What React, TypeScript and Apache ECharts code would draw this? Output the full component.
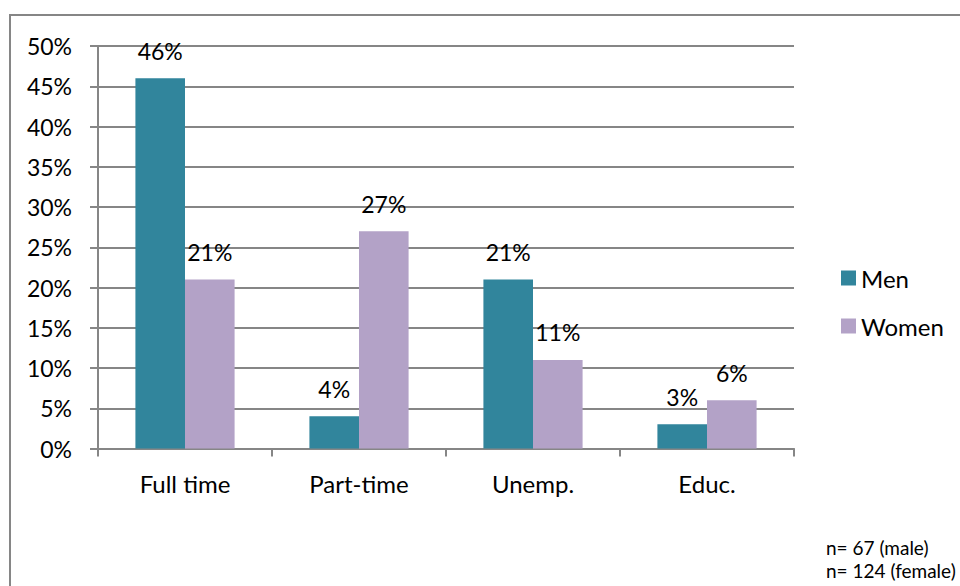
import React, { useEffect, useRef } from "react";
import * as echarts from "echarts";

const categories = ["Full time", "Part-time", "Unemp.", "Educ."];
const menValues = [46, 4, 21, 3];
const womenValues = [21, 27, 11, 6];
const seriesNames = ["Men", "Women"];
const footnotes = ["n= 67 (male)", "n= 124 (female)"];

const FONT = "Lato";

export default function App() {
  const ref = useRef<HTMLDivElement>(null);
  useEffect(() => {
    if (!ref.current) return;
    const chart = echarts.init(ref.current, undefined, { renderer: "svg" });
    const labelStyle = {
      show: true,
      position: "top" as const,
      distance: 16,
      formatter: (p: any) => `${p.value}%`,
      color: "#000",
      fontFamily: FONT,
      fontSize: 23,
    };
    chart.setOption({
      animation: false,
      backgroundColor: "#fff",
      textStyle: { fontFamily: FONT },
      grid: { left: 98, right: 166, top: 46, bottom: 137.5, containLabel: false },
      legend: {
        orient: "vertical",
        left: 836,
        top: 261,
        itemWidth: 15,
        itemHeight: 15,
        itemGap: 24,
        icon: "rect",
        textStyle: { fontFamily: FONT, fontSize: 24, color: "#000" },
        data: seriesNames,
      },
      xAxis: {
        type: "category",
        data: categories,
        axisLine: { lineStyle: { color: "#868686", width: 2 } },
        axisTick: { show: true, length: 8, lineStyle: { color: "#868686", width: 2 } },
        axisLabel: { color: "#000", fontFamily: FONT, fontSize: 24, margin: 23 },
      },
      yAxis: {
        type: "value",
        min: 0,
        max: 50,
        interval: 5,
        axisLine: { show: true, lineStyle: { color: "#868686", width: 2 } },
        axisTick: { show: true, length: 8, lineStyle: { color: "#868686", width: 2 } },
        splitLine: { lineStyle: { color: "#868686", width: 2 } },
        axisLabel: { color: "#000", fontFamily: FONT, fontSize: 23, margin: 26, formatter: "{value}%" },
      },
      series: [
        {
          name: seriesNames[0],
          type: "bar",
          data: menValues,
          barGap: "0%",
          barCategoryGap: "43%",
          itemStyle: { color: "#31859C" },
          label: labelStyle,
        },
        {
          name: seriesNames[1],
          type: "bar",
          data: womenValues,
          itemStyle: { color: "#B3A2C7" },
          label: labelStyle,
        },
      ],
      graphic: [
        {
          type: "rect",
          shape: { x: 10, y: 15, width: 1000, height: 700 },
          style: { fill: "none", stroke: "#868686", lineWidth: 2 },
          silent: true,
          z: -1,
        },
        {
          type: "text",
          left: 826,
          top: 536,
          style: {
            text: footnotes.join("\n"),
            fontFamily: FONT,
            fontSize: 19,
            lineHeight: 23,
            fill: "#000",
          },
        },
      ],
    });
    return () => chart.dispose();
  }, []);
  return (
    <div
      ref={ref}
      style={{ position: "fixed", left: 0, top: 0, width: 960, height: 586 }}
    />
  );
}
